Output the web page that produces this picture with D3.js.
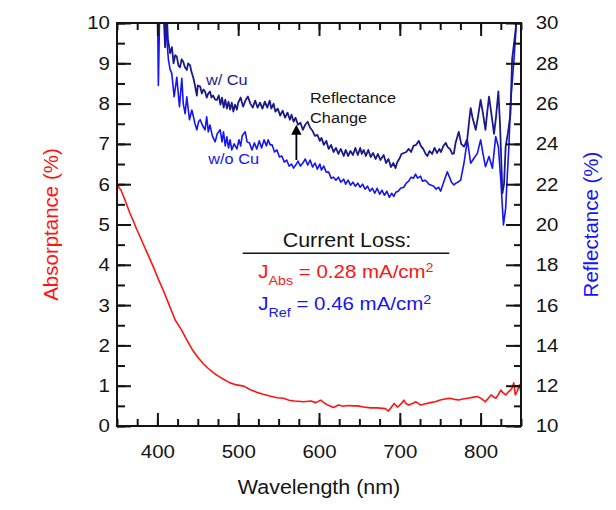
<!DOCTYPE html>
<html>
<head>
<meta charset="utf-8">
<script src="https://cdn.jsdelivr.net/npm/d3@7"></script>
<style>
  html, body { margin: 0; padding: 0; background: #fff; }
  svg { display: block; font-family: "Liberation Sans", Arial, sans-serif; }
</style>
</head>
<body>
<svg id="chart" width="616" height="510"></svg>
<script>
// Absorptance of the Cu layer: [wavelength nm, %], left axis
const absorptance = [
  [350,5.98],[355,5.85],[360,5.6],[366,5.28],[370,5.1],[374,4.9],[378,4.72],[383,4.49],[389,4.22],[395,3.95],
  [401,3.65],[408,3.33],[415,2.98],[422,2.63],[430,2.38],[436,2.15],[443,1.9],[451,1.68],[458,1.52],[465,1.39],
  [472,1.28],[480,1.18],[490,1.07],[498,1.02],[507,0.99],[515,0.9],[523,0.84],[531,0.79],[540,0.74],[548,0.7],
  [556,0.69],[563,0.64],[570,0.62],[581,0.6],[590,0.62],[596,0.58],[602,0.64],[608,0.55],[613,0.5],[618,0.46],
  [624,0.52],[630,0.49],[636,0.51],[642,0.5],[648,0.5],[655,0.47],[664,0.45],[672,0.45],[682,0.43],[686,0.37],
  [690,0.48],[693,0.56],[697,0.47],[699,0.5],[702,0.56],[705,0.64],[708,0.55],[711,0.52],[715,0.55],[720,0.6],
  [726,0.52],[732,0.55],[738,0.58],[744,0.6],[750,0.645],[756,0.67],[762,0.69],[768,0.66],[773,0.645],[778,0.67],
  [784,0.69],[790,0.71],[796,0.73],[801,0.68],[806,0.6],[810,0.7],[813,0.77],[816,0.72],[819,0.69],[822,0.78],
  [825,0.89],[828,0.82],[831,0.77],[834,0.84],[837,0.89],[839,0.95],[841,1.07],[843,0.77],[845,0.85],[848,1.02],[850,0.82]
];

// Reflectance with Cu: [wavelength nm, %], right axis
const reflectanceCu = [
  [400,31],[402,33],[404,30.5],[406,32],[408,30.2],[409.5,28.8],[411,31],[413,29.2],[415.7,28.5],[418,28.8],
  [420,28],[422,28.4],[424,28.33],[426,27.9],[428,27.8],[430,28.2],[432,28.08],[434,27.8],[436.4,27.67],[438,28],
  [440.5,27.9],[442,27.6],[444.6,27.26],[446,27],[448.8,26.4],[450,26.9],[453,26.84],[455,26.5],[457,26.7],[459,26.6],
  [461,26.3],[463,26.5],[465,26.6],[467,26.3],[469,26.4],[471.5,26.2],[473.6,26.18],[476,26.4],[478,25.95],[480,26.3],
  [482,25.8],[484,26.2],[486,25.75],[488,26.1],[490,25.7],[492,26.05],[494,25.6],[496,25.95],[498.4,25.7],[500,26.05],
  [503,26.3],[506,25.85],[509,26.15],[512,26.35],[515,26],[518,25.8],[521,26.15],[524,25.8],[527,26.05],[530,25.75],
  [533,26.1],[536,25.8],[539,26.15],[541,25.75],[543.8,26],[546,25.6],[549,25.75],[552,25.4],[555,25.65],[558,25.3],
  [561,25.55],[564,25.2],[566,25.45],[568.6,25.1],[571,25.3],[574,24.95],[577,25.05],[580,24.7],[583,24.95],[586,25.1],
  [589,24.8],[592,24.65],[595,24.4],[598,24.45],[601,24.15],[603,24.3],[606,23.95],[609,24.15],[612,23.75],[615,23.95],
  [618,23.6],[621,23.8],[624,23.5],[627,23.75],[630.6,23.4],[633,23.7],[636,23.4],[639,23.65],[642,23.45],[645,23.8],
  [648,23.45],[651,23.8],[653,23.5],[655.4,23.7],[658,23.4],[661,23.7],[664,23.35],[667,23.55],[670,23.25],[673,23.5],
  [676,23.2],[680,23.45],[683,23.05],[686,23.25],[689,22.85],[692,23.05],[694.7,22.8],[697,23.1],[700,23.3],[702,23.5],
  [705,23.55],[708,23.6],[711,23.75],[714,23.6],[717,23.9],[720,23.95],[723.6,24.15],[726,23.9],[729,23.75],[732,23.5],
  [734,23.4],[737,23.65],[740,23.5],[743,23.8],[746,23.55],[749,23.75],[751,23.6],[754,23.9],[757,24.05],[759,23.85],
  [762,23.75],[765,23.5],[767,23.53],[769,24.05],[773,24.6],[776,24],[779.4,23.86],[781,24],[783.6,24.27],[786,25.2],
  [787.7,25.78],[790,25.3],[794,24.7],[797,25.4],[800,26.18],[803,25.5],[806,24.7],[808,25.5],[810.4,26.34],[813,25.6],
  [816.6,24.5],[819,25.3],[822,26.6],[824,25],[827,21.55],[829,22],[831,23.86],[834,24.6],[837,25.5],[839,28.2],
  [842,29.2],[845.6,30.5],[848,32]
];

// Reflectance without Cu: [wavelength nm, %], right axis
const reflectanceNoCu = [
  [400,31.5],[401.2,26.9],[403,31],[405,32],[407,30.2],[409,31.5],[411,29.5],[413.6,28.2],[415.7,27.7],[417.8,27.5],
  [420.7,26.34],[424,27.3],[427.3,25.85],[430.2,27.26],[432,26],[434.3,25.5],[436.4,26.34],[439.7,25.2],[442.6,25.68],[444.6,25.35],
  [446.5,25],[448.8,24.7],[451,25.1],[453,25.2],[456,24.9],[459,24.7],[461,25.35],[463,24.6],[465,24.94],[468,24.4],
  [471.5,24.1],[474,24.5],[477.7,24.7],[480,24.1],[481.8,24.6],[484,23.9],[486,24.35],[488,23.8],[490,24.2],[492,23.7],
  [495,24],[498.4,23.75],[501,24.2],[503,23.9],[505,24.4],[508.7,24.6],[511,24.1],[514,24.05],[517,23.7],[520,24.05],
  [523,23.75],[526,24.15],[529,23.8],[532,24.2],[535,23.9],[537,24.2],[539.7,23.95],[542,23.95],[545,23.6],[548,23.7],
  [551,23.35],[554,23.4],[557,23.1],[560,23.2],[563,22.9],[566,23],[568.6,22.8],[572,23],[574,23.15],[577,22.9],
  [580,23.05],[583,23.25],[586,22.95],[589,23.2],[592,22.85],[595,23.05],[598,22.75],[601,23],[603,22.7],[605.8,22.9],
  [609,22.6],[612,22.6],[615,22.3],[618,22.35],[621,22.2],[624,22.35],[627,22.1],[630.6,22.25],[633,22],[636,22.2],
  [639,21.95],[642,22.1],[645,21.9],[648,22.05],[651,21.85],[654,22],[657,21.75],[660,21.9],[663,21.65],[666,21.8],
  [669,21.55],[672,21.8],[675,21.5],[678,21.7],[681,21.45],[684,21.65],[687,21.35],[690,21.55],[692.6,21.4],[695,21.6],
  [698,21.65],[701,21.8],[705,21.85],[708,22.05],[711,22.15],[714,22.35],[717,22.3],[719.5,22.5],[722,22.3],[725.7,22.4],
  [728,22.15],[731,22.2],[734,22.1],[736,22],[739,21.95],[742,21.9],[745,21.75],[748,21.85],[750.5,21.65],[753,21.95],
  [756,22.3],[758.8,22.62],[761,22.4],[764,22.1],[767,21.96],[769,22.04],[772,22.1],[775.3,22.2],[779.4,23.04],[783.6,24.2],
  [787.7,23.04],[792,23.3],[796,23.53],[800,24.2],[803,23.5],[806,22.87],[810.4,23.37],[814.6,22.79],[818.7,24.36],[822,23.86],
  [825,22.2],[828.3,19.98],[831,20.8],[833,22.4],[835,23.86],[837,26],[839,27],[841,28],[843.5,29.5],[845,31],[848,32]
];

const xMajorTicks = [400, 500, 600, 700, 800];
const xMinorTicks = d3.range(350, 851, 25);
const absMajorTicks = d3.range(0, 11, 1);
const absMinorTicks = d3.range(0, 10.01, 0.5);
const refMajorTicks = d3.range(10, 31, 2);
const refMinorTicks = d3.range(10, 31, 1);

// the arrow marks the gap between the two reflectance curves
const arrowWavelength = 572;
const arrowFrom = 23.2;
const arrowTo = 24.95;

const RED = "#ff1414";
const BLUE = "#1414f5";
const NAVY = "#1a1a8c";
const INK = "#141414";
const SX = 1.1;   // horizontal text stretch

const svg = d3.select("#chart");
const W = 616, H = 510;
const margin = { left: 117, top: 23, right: 95, bottom: 84 };
const plotW = W - margin.left - margin.right;
const plotH = H - margin.top - margin.bottom;

const x = d3.scaleLinear().domain([350, 850]).range([margin.left, margin.left + plotW]);
const yAbs = d3.scaleLinear().domain([0, 10]).range([margin.top + plotH, margin.top]);
const yRef = d3.scaleLinear().domain([10, 30]).range([margin.top + plotH, margin.top]);

svg.append("rect").attr("width", W).attr("height", H).attr("fill", "#fff");

svg.append("defs").append("clipPath").attr("id", "plotClip")
  .append("rect")
  .attr("x", margin.left).attr("y", margin.top)
  .attr("width", plotW).attr("height", plotH);

// ---- curves ----
const plot = svg.append("g").attr("clip-path", "url(#plotClip)");

function drawCurve(pts, yScale, color, width) {
  plot.append("path")
    .datum(pts)
    .attr("fill", "none")
    .attr("stroke", color)
    .attr("stroke-width", width)
    .attr("stroke-linejoin", "round")
    .attr("d", d3.line().x(d => x(d[0])).y(d => yScale(d[1])));
}
drawCurve(absorptance, yAbs, RED, 1.6);
drawCurve(reflectanceNoCu, yRef, BLUE, 1.6);
drawCurve(reflectanceCu, yRef, NAVY, 1.8);

// ---- axes ----
function styleAxis(g) {
  g.select(".domain").remove();
  g.selectAll(".tick line").attr("stroke", INK).attr("stroke-width", 2);
  g.selectAll(".tick text")
    .attr("fill", INK)
    .style("font-size", "18.6px")
    .style("font-family", '"Liberation Sans", Arial, sans-serif')
    .attr("transform", `scale(${SX},1)`);
}
const bottomY = margin.top + plotH;
const rightX = margin.left + plotW;

// bottom: minor then major with labels
svg.append("g").attr("transform", `translate(0,${bottomY})`)
  .call(d3.axisBottom(x).tickValues(xMinorTicks).tickSizeInner(-7).tickSizeOuter(0).tickFormat(""))
  .call(styleAxis);
svg.append("g").attr("transform", `translate(0,${bottomY})`)
  .call(d3.axisBottom(x).tickValues(xMajorTicks).tickSizeInner(-13).tickSizeOuter(0).tickPadding(18.8).tickFormat(d3.format("d")))
  .call(styleAxis);
// top: mirrored ticks
svg.append("g").attr("transform", `translate(0,${margin.top})`)
  .call(d3.axisTop(x).tickValues(xMinorTicks).tickSizeInner(-7).tickSizeOuter(0).tickFormat(""))
  .call(styleAxis);
svg.append("g").attr("transform", `translate(0,${margin.top})`)
  .call(d3.axisTop(x).tickValues(xMajorTicks).tickSizeInner(-13).tickSizeOuter(0).tickFormat(""))
  .call(styleAxis);
// left: absorptance
svg.append("g").attr("transform", `translate(${margin.left},0)`)
  .call(d3.axisLeft(yAbs).tickValues(absMinorTicks).tickSizeInner(-8).tickSizeOuter(0).tickFormat(""))
  .call(styleAxis);
svg.append("g").attr("transform", `translate(${margin.left},0)`)
  .call(d3.axisLeft(yAbs).tickValues(absMajorTicks).tickSizeInner(-14).tickSizeOuter(0).tickPadding(6.4).tickFormat(d3.format("d")))
  .call(styleAxis);
// right: reflectance
svg.append("g").attr("transform", `translate(${rightX},0)`)
  .call(d3.axisRight(yRef).tickValues(refMinorTicks).tickSizeInner(-7).tickSizeOuter(0).tickFormat(""))
  .call(styleAxis);
svg.append("g").attr("transform", `translate(${rightX},0)`)
  .call(d3.axisRight(yRef).tickValues(refMajorTicks).tickSizeInner(-15).tickSizeOuter(0).tickPadding(13.4).tickFormat(d3.format("d")))
  .call(styleAxis);

// frame
svg.append("rect")
  .attr("x", margin.left).attr("y", margin.top)
  .attr("width", plotW).attr("height", plotH)
  .attr("fill", "none").attr("stroke", INK).attr("stroke-width", 2);

// ---- axis titles ----
function stretchedText(px, py, str, size, color, anchor) {
  return svg.append("text")
    .attr("transform", `translate(${px},${py}) scale(${SX},1)`)
    .attr("text-anchor", anchor || "start")
    .attr("fill", color)
    .style("font-size", size + "px")
    .text(str);
}
stretchedText(margin.left + plotW / 2, 494, "Wavelength (nm)", 19.5, INK, "middle");

svg.append("text")
  .attr("transform", `translate(57.5,${margin.top + plotH / 2}) rotate(-90)`)
  .attr("text-anchor", "middle").attr("fill", RED)
  .style("font-size", "20.5px")
  .text("Absorptance (%)");
svg.append("text")
  .attr("transform", `translate(597.5,${margin.top + plotH / 2}) rotate(-90)`)
  .attr("text-anchor", "middle").attr("fill", BLUE)
  .style("font-size", "20.5px")
  .text("Reflectance (%)");

// ---- curve labels ----
stretchedText(x(460), yRef(26.9), "w/ Cu", 14.8, NAVY);
stretchedText(x(463), yRef(23.0), "w/o Cu", 14.8, BLUE);
stretchedText(x(589), yRef(26.05), "Reflectance", 14.8, INK);
stretchedText(x(589), yRef(25.05), "Change", 14.8, INK);

// arrow
const ax = x(arrowWavelength);
const yTip = yRef(arrowTo);
const headH = 10, headW = 5.2;
svg.append("line")
  .attr("x1", ax).attr("x2", ax)
  .attr("y1", yRef(arrowFrom)).attr("y2", yTip + headH - 1)
  .attr("stroke", "#000").attr("stroke-width", 1.8);
svg.append("path")
  .attr("d", `M${ax},${yTip} L${ax - headW},${yTip + headH} L${ax + headW},${yTip + headH} Z`)
  .attr("fill", "#000");

// ---- current loss summary ----
stretchedText(347, 247.3, "Current Loss:", 19.5, INK, "middle");
svg.append("line")
  .attr("x1", 242.7).attr("x2", 449.3)
  .attr("y1", 253.3).attr("y2", 253.3)
  .attr("stroke", INK).attr("stroke-width", 1.6);

function lossLine(py, sub, value, color) {
  const t = svg.append("text")
    .attr("transform", `translate(258.3,${py}) scale(${SX},1)`)
    .attr("fill", color)
    .style("font-size", "18.6px");
  t.append("tspan").text("J");
  t.append("tspan").attr("dy", 6.5).style("font-size", "13px").text(sub);
  t.append("tspan").attr("dy", -6.5).text(" = " + value + " mA/cm");
  t.append("tspan").attr("dy", -6).style("font-size", "13px").text("2");
}
lossLine(278.3, "Abs", "0.28", RED);
lossLine(310, "Ref", "0.46", BLUE);
</script>
</body>
</html>
